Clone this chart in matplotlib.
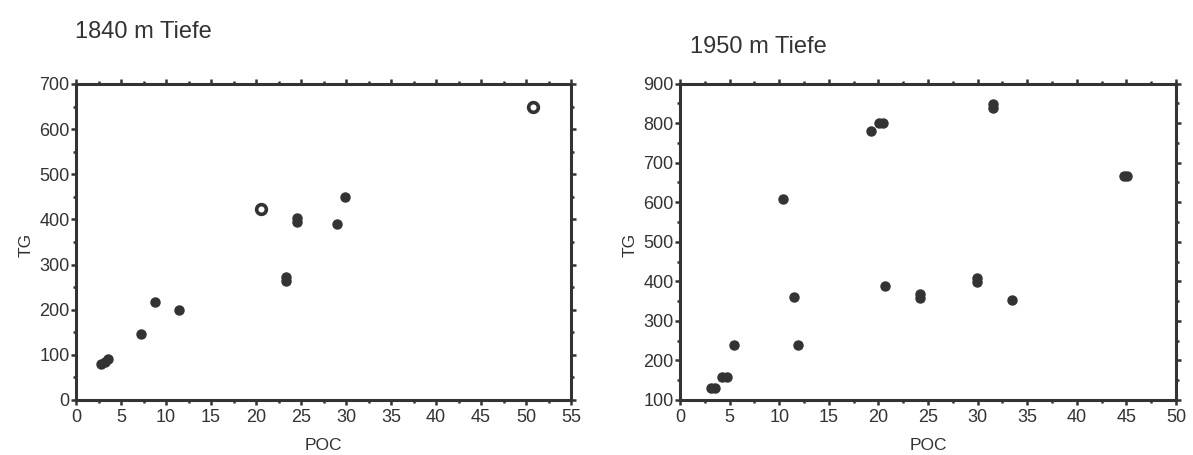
import matplotlib
matplotlib.use("Agg")
import matplotlib.pyplot as plt
from matplotlib.ticker import MultipleLocator

# ---- data ----
# 1840 m depth
poc_1840_filled = [2.8, 3.2, 3.6, 7.2, 8.8, 11.4, 23.3, 23.3, 24.6, 24.6, 29.0, 29.9]
tg_1840_filled = [80, 85, 90, 146, 216, 200, 264, 272, 394, 404, 390, 449]
poc_1840_open = [20.6, 50.8]
tg_1840_open = [423, 648]

# 1950 m depth
poc_1950 = [3.1, 3.5, 4.2, 4.7, 5.4, 10.4, 11.5, 11.9, 19.3, 20.1, 20.5, 20.7,
            24.2, 24.2, 29.9, 29.9, 31.6, 31.6, 33.5, 44.8, 45.1]
tg_1950 = [130, 130, 157, 157, 239, 607, 361, 239, 779, 800, 799, 387,
           358, 367, 398, 408, 838, 848, 353, 667, 667]

titles = ["1840 m Tiefe", "1950 m Tiefe"]
xlabel = "POC"
ylabel = "TG"

plt.rcParams['font.family'] = ['Liberation Sans', 'DejaVu Sans']
INK = '#333333'

fig = plt.figure(figsize=(11.93, 4.55), dpi=100)
ax1 = fig.add_axes([76/1193, 1-400/455, 495/1193, 316/455])
ax2 = fig.add_axes([680/1193, 1-400/455, 496/1193, 316.5/455])


def style(ax, xlim, ylim, xmaj, xmin, ymaj, ymin):
    ax.set_xlim(*xlim)
    ax.set_ylim(*ylim)
    ax.xaxis.set_major_locator(MultipleLocator(xmaj))
    ax.xaxis.set_minor_locator(MultipleLocator(xmin))
    ax.yaxis.set_major_locator(MultipleLocator(ymaj))
    ax.yaxis.set_minor_locator(MultipleLocator(ymin))
    for s in ax.spines.values():
        s.set_linewidth(2.2)
        s.set_color(INK)
    ax.tick_params(which='both', direction='out', top=True, right=True,
                   color=INK, labelcolor=INK)
    ax.tick_params(which='major', length=3.5, width=1.8, labelsize=13, pad=1.2)
    ax.tick_params(which='minor', length=2.5, width=1.8)
    ax.tick_params(axis='x', which='major', pad=3)
    ax.set_xlabel(xlabel, fontsize=12.5, color=INK)
    ax.set_ylabel(ylabel, fontsize=12.5, color=INK)
    ax.xaxis.set_label_coords(0.5, -0.143)
    ax.xaxis.label.set_va('center')
    ax.yaxis.set_label_coords(-0.10, 0.49)
    ax.yaxis.label.set_va('center')


style(ax1, (0, 55), (0, 700), 5, 2.5, 100, 50)
style(ax2, (0, 50), (100, 900), 5, 2.5, 100, 50)

ax1.plot(poc_1840_filled, tg_1840_filled, 'o', ms=6.5, color=INK, mec=INK,
         clip_on=False)
ax1.plot(poc_1840_open, tg_1840_open, 'o', ms=7, mfc='white', mec=INK,
         mew=2.6, clip_on=False)
ax2.plot(poc_1950, tg_1950, 'o', ms=6.5, color=INK, mec=INK, clip_on=False)

fig.text(75/1193, 1-32/455, titles[0], fontsize=17, color=INK,
         ha='left', va='center')
fig.text(690/1193, 1-47/455, titles[1], fontsize=17, color=INK,
         ha='left', va='center')

fig.savefig("out.png", dpi=100)
